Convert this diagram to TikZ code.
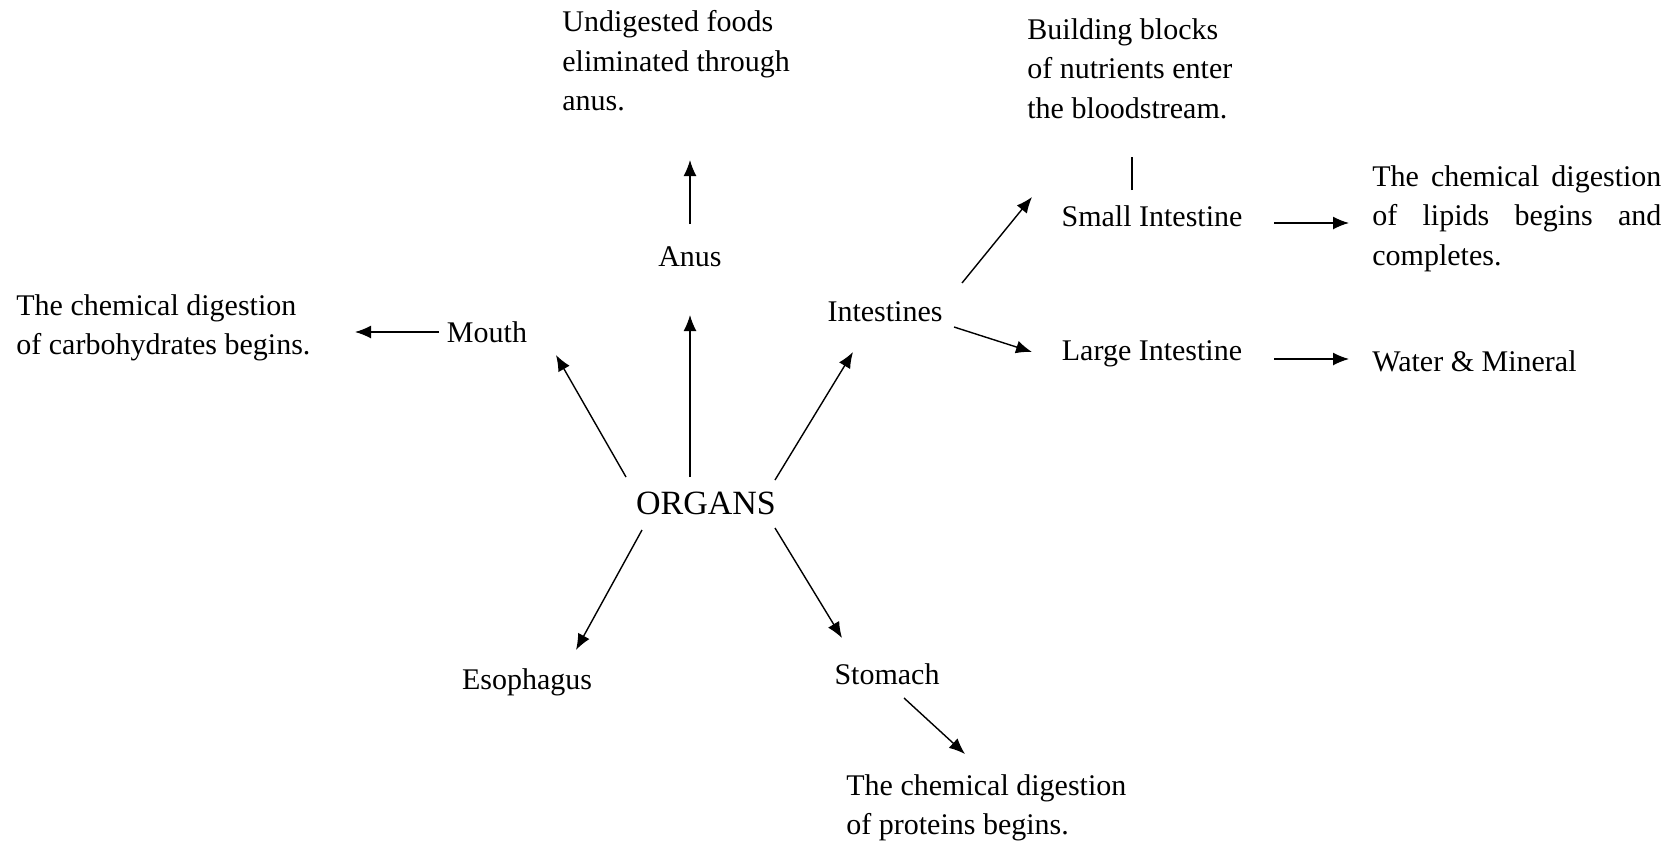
\documentclass[tikz,border=0pt]{standalone}
\usepackage{fontspec}
\setmainfont{Liberation Serif}
\usetikzlibrary{arrows.meta}

\begin{document}
\begin{tikzpicture}[x=0.5pt, y=-0.5pt,
  organ/.style={inner sep=0pt, font=\fontsize{15}{19.75}\selectfont},
  hub/.style={inner sep=0pt, font=\fontsize{17}{20}\selectfont},
  note/.style={organ, anchor=north west, align=left},
  arrow/.style={-{Latex[length=8pt,width=6.5pt]}, line width=0.7pt},
  link/.style={line width=0.7pt}
]
\useasboundingbox (0,0) rectangle (1672,841);

% Centre
\node[hub] (organs) at (706,503) {ORGANS};

% Organs round the centre
\node[organ] (mouth) at (487,332) {Mouth};
\node[organ] (anus) at (690,257) {Anus};
\node[organ] (intes) at (885,312) {Intestines};
\node[organ] (esoph) at (527,682) {Esophagus};
\node[organ] (stomach) at (887,674) {Stomach};
\node[organ] (small) at (1152,216) {Small Intestine};
\node[organ] (large) at (1152,354) {Large Intestine};

% What each one does
\node[note] (undig) at (562,10) {Undigested foods\\eliminated through\\anus.};
\node[note] (blocks) at (1027,18) {Building blocks\\of nutrients enter\\the bloodstream.};
\node[note] (carbs) at (16,294) {The chemical digestion\\of carbohydrates begins.};
\node[note, text width=144.5pt, align=justify] (lipids) at (1372,165)
  {\tolerance=10000 \hyphenpenalty=10000 The chemical digestion of lipids begins and completes.};
\node[organ, anchor=west] (water) at (1372,361) {Water \& Mineral};
\node[note] (proteins) at (846,774) {The chemical digestion\\of proteins begins.};

% Connectors
\draw[arrow] ([shift={(-80,-26)}]organs.center) -- ([shift={(69,23)}]mouth.center);
\draw[arrow] ([shift={(-16,-26)}]organs.center) -- ([shift={(0,58)}]anus.center);
\draw[arrow] ([shift={(69,-23)}]organs.center) -- ([shift={(-32,40)}]intes.center);
\draw[arrow] ([shift={(-64,27)}]organs.center) -- ([shift={(49,-32)}]esoph.center);
\draw[arrow] ([shift={(69,25)}]organs.center) -- ([shift={(-45,-36)}]stomach.center);
\draw[arrow] ([shift={(0,-33)}]anus.center) -- ([shift={(128,150)}]undig.north west);
\draw[arrow] ([shift={(-48,0)}]mouth.center) -- ([shift={(339,38)}]carbs.north west);
\draw[arrow] ([shift={(77,-29)}]intes.center) -- ([shift={(-120,-19)}]small.center);
\draw[arrow] ([shift={(69,15)}]intes.center) -- ([shift={(-120,-2)}]large.center);
\draw[arrow] ([shift={(122,7)}]small.center) -- ([shift={(-23,58)}]lipids.north west);
\draw[arrow] ([shift={(122,5)}]large.center) -- ([shift={(-23,-2)}]water.west);
\draw[arrow] ([shift={(17,24)}]stomach.center) -- ([shift={(119,-20)}]proteins.north west);
\draw[link] ([shift={(-20,-26)}]small.center) -- ([shift={(105,139)}]blocks.north west);
\end{tikzpicture}
\end{document}
